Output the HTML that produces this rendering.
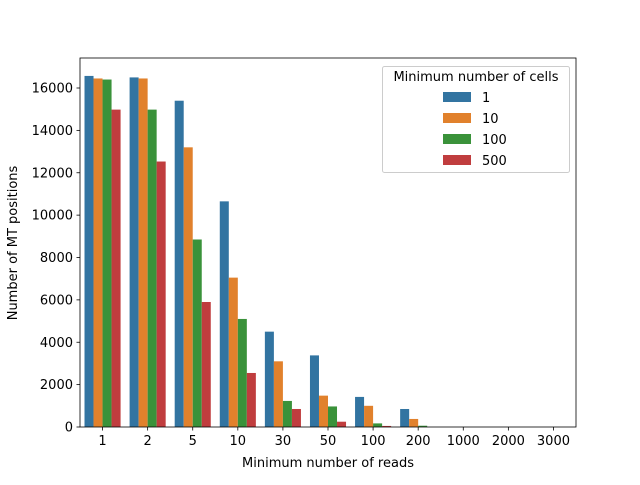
<!DOCTYPE html>
<html><head><meta charset="utf-8"><style>
body{margin:0;background:#fff}
svg{font-family:"DejaVu Sans","Liberation Sans",sans-serif}
</style></head><body>
<svg id="c" width="640" height="480" xmlns="http://www.w3.org/2000/svg">
<rect width="640" height="480" fill="#fff"/>
<g id="bars"></g>
<g id="axes"></g>
</svg>
<script>
const categories=["1","2","5","10","30","50","100","200","1000","2000","3000"];
const hues=["1","10","100","500"];
const s1=[16570,16500,15400,10650,4500,3380,1420,850,0,0,0];
const s10=[16450,16450,13200,7050,3100,1480,1000,380,0,0,0];
const s100=[16400,14980,8850,5100,1230,970,170,60,0,0,0];
const s500=[14980,12530,5900,2550,850,250,50,0,0,0,0];
const yTicks=[0,2000,4000,6000,8000,10000,12000,14000,16000];
const series=[s1,s10,s100,s500];
const colors=["#3274a1","#e1812c","#3a923a","#c03d3e"];
const L=80,R=576,T=58,B=427,yMax=17416;
const NS="http://www.w3.org/2000/svg";
const cw=(R-L)/categories.length;
const x=i=>L+cw*(i+0.1);
const y=v=>B-(v/yMax)*(B-T);
function mk(t,a,p){const e=document.createElementNS(NS,t);for(const k in a)e.setAttribute(k,a[k]);p.appendChild(e);return e;}
const gb=document.getElementById('bars'),ga=document.getElementById('axes');
series.forEach((s,h)=>s.forEach((v,i)=>{
 const r=mk('rect',{x:x(i)+h*cw*0.2,y:y(v),width:cw*0.2,height:B-y(v),fill:colors[h]},gb);
 
 
}));
const fr=mk('rect',{x:L,y:T,width:R-L,height:B-T,fill:'none',stroke:'#000','stroke-width':0.8},ga);

yTicks.forEach(v=>{
 mk('line',{x1:L-3.5,x2:L,y1:y(v),y2:y(v),stroke:'#000','stroke-width':0.8},ga);
 const t=mk('text',{x:L-7,y:y(v)+4.5,'text-anchor':'end','font-size':13},ga);t.textContent=v;
 
});
categories.forEach((c,i)=>{
 const cx=L+cw*(i+0.5);
 mk('line',{x1:cx,x2:cx,y1:B,y2:B+3.5,stroke:'#000','stroke-width':0.8},ga);
 const t=mk('text',{x:cx,y:B+18,'text-anchor':'middle','font-size':13},ga);t.textContent=c;
 
});
</script>
<svg style="position:absolute;left:0;top:0" width="640" height="480" xmlns="http://www.w3.org/2000/svg">
<text x="328" y="467" text-anchor="middle" font-size="13" font-family="DejaVu Sans,sans-serif">Minimum number of reads</text>
<text transform="translate(17,243) rotate(-90)" text-anchor="middle" font-size="13" font-family="DejaVu Sans,sans-serif">Number of MT positions</text>
<g font-family="DejaVu Sans,sans-serif" font-size="13">
<rect x="382.5" y="66.5" width="187" height="106" rx="2" fill="#fff" fill-opacity="0.8" stroke="#ccc"/>
<text x="476" y="81" text-anchor="middle">Minimum number of cells</text>
<rect x="443" y="92" width="28" height="10" fill="#3274a1"/><text x="482" y="102">1</text>
<rect x="443" y="113" width="28" height="10" fill="#e1812c"/><text x="482" y="123">10</text>
<rect x="443" y="134" width="28" height="10" fill="#3a923a"/><text x="482" y="144">100</text>
<rect x="443" y="155" width="28" height="10" fill="#c03d3e"/><text x="482" y="165">500</text>
</g>
</svg>
</body></html>
